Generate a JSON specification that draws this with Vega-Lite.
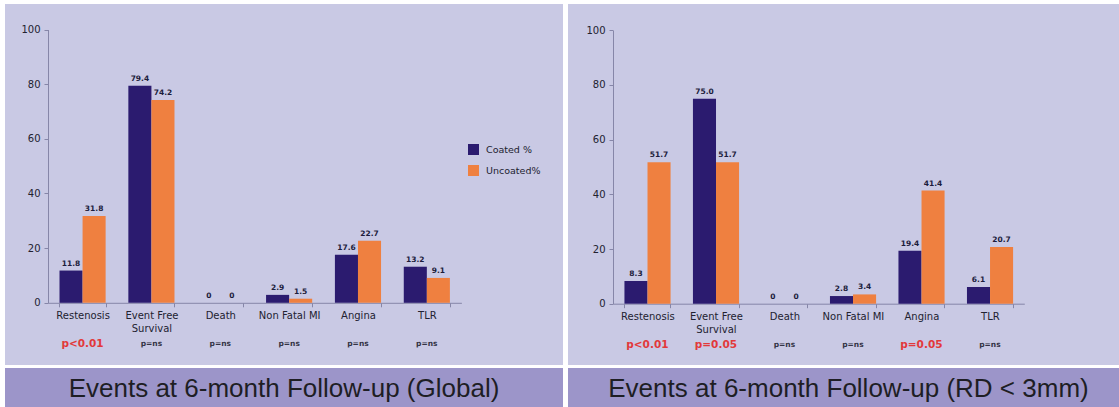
{
  "$schema": "https://vega.github.io/schema/vega-lite/v6.json",
  "background": "white",
  "padding": {"left": 5, "top": 4, "right": 0, "bottom": 0},
  "autosize": {"type": "pad"},
  "datasets": {
    "global": [
      {"cat": "Restenosis", "grp": "Coated %", "v": 11.8},
      {"cat": "Restenosis", "grp": "Uncoated%", "v": 31.8},
      {"cat": "Event Free Survival", "grp": "Coated %", "v": 79.4},
      {"cat": "Event Free Survival", "grp": "Uncoated%", "v": 74.2},
      {"cat": "Death", "grp": "Coated %", "v": 0},
      {"cat": "Death", "grp": "Uncoated%", "v": 0},
      {"cat": "Non Fatal MI", "grp": "Coated %", "v": 2.9},
      {"cat": "Non Fatal MI", "grp": "Uncoated%", "v": 1.5},
      {"cat": "Angina", "grp": "Coated %", "v": 17.6},
      {"cat": "Angina", "grp": "Uncoated%", "v": 22.7},
      {"cat": "TLR", "grp": "Coated %", "v": 13.2},
      {"cat": "TLR", "grp": "Uncoated%", "v": 9.1}
    ],
    "small": [
      {"cat": "Restenosis", "grp": "Coated %", "v": 8.3},
      {"cat": "Restenosis", "grp": "Uncoated%", "v": 51.7},
      {"cat": "Event Free Survival", "grp": "Coated %", "v": 75.0},
      {"cat": "Event Free Survival", "grp": "Uncoated%", "v": 51.7},
      {"cat": "Death", "grp": "Coated %", "v": 0},
      {"cat": "Death", "grp": "Uncoated%", "v": 0},
      {"cat": "Non Fatal MI", "grp": "Coated %", "v": 2.8},
      {"cat": "Non Fatal MI", "grp": "Uncoated%", "v": 3.4},
      {"cat": "Angina", "grp": "Coated %", "v": 19.4},
      {"cat": "Angina", "grp": "Uncoated%", "v": 41.4},
      {"cat": "TLR", "grp": "Coated %", "v": 6.1},
      {"cat": "TLR", "grp": "Uncoated%", "v": 20.7}
    ],
    "pGlobal": [
      {"cat": "Restenosis", "p": "p<0.01", "sig": true},
      {"cat": "Event Free Survival", "p": "p=ns", "sig": false},
      {"cat": "Death", "p": "p=ns", "sig": false},
      {"cat": "Non Fatal MI", "p": "p=ns", "sig": false},
      {"cat": "Angina", "p": "p=ns", "sig": false},
      {"cat": "TLR", "p": "p=ns", "sig": false}
    ],
    "pSmall": [
      {"cat": "Restenosis", "p": "p<0.01", "sig": true},
      {"cat": "Event Free Survival", "p": "p=0.05", "sig": true},
      {"cat": "Death", "p": "p=ns", "sig": false},
      {"cat": "Non Fatal MI", "p": "p=ns", "sig": false},
      {"cat": "Angina", "p": "p=0.05", "sig": true},
      {"cat": "TLR", "p": "p=ns", "sig": false}
    ],
    "titles": [
      {"panel": "global", "t": "Events at 6-month Follow-up (Global)"},
      {"panel": "small", "t": "Events at 6-month Follow-up (RD < 3mm)"}
    ]
  },
  "spacing": 5,
  "hconcat": [
    {
      "spacing": 3,
      "vconcat": [
        {
          "width": 558,
          "height": 361,
          "view": {"fill": "#c9c9e4", "stroke": null},
          "layer": [
            {
              "data": {"name": "global"},
              "mark": {"type": "bar"},
              "encoding": {
                "x": {
                  "field": "cat", "type": "nominal", "title": null,
                  "scale": {"domain": ["Restenosis", "Event Free Survival", "Death", "Non Fatal MI", "Angina", "TLR"], "range": [43, 456.4], "paddingInner": 0.33, "paddingOuter": 0.167},
                  "axis": {"orient": "bottom", "offset": -62.2, "labelAngle": 0, "tickBand": "extent", "labelPadding": 4, "labelLineHeight": 13, "labelOverlap": false, "labelExpr": "datum.value == 'Event Free Survival' ? ['Event Free', 'Survival'] : datum.value"}
                },
                "xOffset": {"field": "grp", "type": "nominal", "scale": {"domain": ["Coated %", "Uncoated%"]}},
                "y": {
                  "field": "v", "type": "quantitative", "title": null,
                  "scale": {"domain": [0, 100], "range": [298.8, 25.5], "nice": false},
                  "axis": {"orient": "left", "offset": -43, "values": [0, 20, 40, 60, 80, 100], "labelPadding": 4}
                },
                "color": {
                  "field": "grp", "type": "nominal",
                  "scale": {"domain": ["Coated %", "Uncoated%"], "range": ["#2b1b6f", "#ef8040"]},
                  "legend": {"orient": "none", "legendX": 463, "legendY": 140, "title": null}
                }
              }
            },
            {
              "data": {"name": "global"},
              "mark": {"type": "text", "baseline": "bottom", "dy": -3, "font": "DejaVu Sans", "fontSize": 7.5, "fontWeight": "bold", "color": "#1c1c3c"},
              "encoding": {
                "x": {"field": "cat", "type": "nominal", "title": null},
                "xOffset": {"field": "grp", "type": "nominal"},
                "y": {"field": "v", "type": "quantitative", "title": null},
                "text": {"condition": {"test": "datum.v === 0", "value": "0"}, "field": "v", "type": "quantitative", "format": ".1f"}
              }
            },
            {
              "data": {"name": "pGlobal"},
              "mark": {"type": "text", "baseline": "middle", "font": "DejaVu Sans", "fontWeight": "bold"},
              "encoding": {
                "x": {"field": "cat", "type": "nominal", "title": null},
                "y": {"datum": -15, "type": "quantitative", "title": null},
                "text": {"field": "p", "type": "nominal"},
                "color": {"condition": {"test": "datum.sig", "value": "#e2393b"}, "value": "#333344"},
                "size": {"condition": {"test": "datum.sig", "value": 10.5}, "value": 7.5}
              }
            }
          ]
        },
        {
          "width": 558,
          "height": 39,
          "view": {"fill": "#9c95c9", "stroke": null},
          "data": {"name": "titles"},
          "transform": [{"filter": "datum.panel == 'global'"}],
          "mark": {"type": "text", "align": "center", "baseline": "middle", "dy": 1.5, "font": "Liberation Sans", "fontSize": 26, "color": "#1e1e24"},
          "encoding": {
            "x": {"field": "panel", "type": "nominal", "axis": null},
            "y": {"field": "panel", "type": "nominal", "axis": null},
            "text": {"field": "t", "type": "nominal"}
          }
        }
      ]
    },
    {
      "spacing": 3,
      "vconcat": [
        {
          "width": 551,
          "height": 361,
          "view": {"fill": "#c9c9e4", "stroke": null},
          "layer": [
            {
              "data": {"name": "small"},
              "mark": {"type": "bar"},
              "encoding": {
                "x": {
                  "field": "cat", "type": "nominal", "title": null,
                  "scale": {"domain": ["Restenosis", "Event Free Survival", "Death", "Non Fatal MI", "Angina", "TLR"], "range": [45, 456.3], "paddingInner": 0.33, "paddingOuter": 0.167},
                  "axis": {"orient": "bottom", "offset": -61.3, "labelAngle": 0, "tickBand": "extent", "labelPadding": 4, "labelLineHeight": 13, "labelOverlap": false, "labelExpr": "datum.value == 'Event Free Survival' ? ['Event Free', 'Survival'] : datum.value"}
                },
                "xOffset": {"field": "grp", "type": "nominal", "scale": {"domain": ["Coated %", "Uncoated%"]}},
                "y": {
                  "field": "v", "type": "quantitative", "title": null,
                  "scale": {"domain": [0, 100], "range": [299.7, 26.3], "nice": false},
                  "axis": {"orient": "left", "offset": -45, "values": [0, 20, 40, 60, 80, 100], "labelPadding": 4}
                },
                "color": {
                  "field": "grp", "type": "nominal",
                  "scale": {"domain": ["Coated %", "Uncoated%"], "range": ["#2b1b6f", "#ef8040"]},
                  "legend": {"orient": "none", "legendX": 466, "legendY": 150, "title": null}
                }
              }
            },
            {
              "data": {"name": "small"},
              "mark": {"type": "text", "baseline": "bottom", "dy": -3, "font": "DejaVu Sans", "fontSize": 7.5, "fontWeight": "bold", "color": "#1c1c3c"},
              "encoding": {
                "x": {"field": "cat", "type": "nominal", "title": null},
                "xOffset": {"field": "grp", "type": "nominal"},
                "y": {"field": "v", "type": "quantitative", "title": null},
                "text": {"condition": {"test": "datum.v === 0", "value": "0"}, "field": "v", "type": "quantitative", "format": ".1f"}
              }
            },
            {
              "data": {"name": "pSmall"},
              "mark": {"type": "text", "baseline": "middle", "font": "DejaVu Sans", "fontWeight": "bold"},
              "encoding": {
                "x": {"field": "cat", "type": "nominal", "title": null},
                "y": {"datum": -15, "type": "quantitative", "title": null},
                "text": {"field": "p", "type": "nominal"},
                "color": {"condition": {"test": "datum.sig", "value": "#e2393b"}, "value": "#333344"},
                "size": {"condition": {"test": "datum.sig", "value": 10.5}, "value": 7.5}
              }
            }
          ]
        },
        {
          "width": 551,
          "height": 39,
          "view": {"fill": "#9c95c9", "stroke": null},
          "data": {"name": "titles"},
          "transform": [{"filter": "datum.panel == 'small'"}],
          "mark": {"type": "text", "align": "center", "baseline": "middle", "dx": 5, "dy": 1.5, "font": "Liberation Sans", "fontSize": 26, "color": "#1e1e24"},
          "encoding": {
            "x": {"field": "panel", "type": "nominal", "axis": null},
            "y": {"field": "panel", "type": "nominal", "axis": null},
            "text": {"field": "t", "type": "nominal"}
          }
        }
      ]
    }
  ],
  "config": {
    "view": {"stroke": null},
    "axis": {
      "domainColor": "#8686a8",
      "tickColor": "#8686a8",
      "tickSize": 4,
      "grid": false,
      "labelFont": "DejaVu Sans",
      "labelFontSize": 10,
      "labelColor": "#222230"
    },
    "legend": {
      "symbolType": "square",
      "symbolSize": 121,
      "symbolStrokeWidth": 0,
      "symbolOpacity": 1,
      "labelFont": "DejaVu Sans",
      "labelFontSize": 9.5,
      "labelColor": "#222230",
      "labelOffset": 7,
      "rowPadding": 10,
      "padding": 0
    }
  }
}
